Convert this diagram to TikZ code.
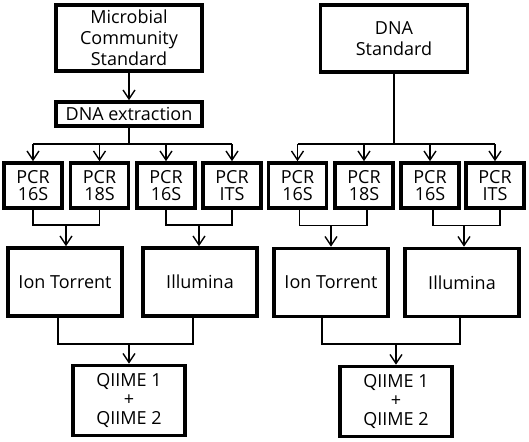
\documentclass[tikz,border=0pt]{standalone}
\usepackage{fontspec}
\setmainfont{Open Sans}
\usetikzlibrary{arrows.meta,calc}
\begin{document}
\begin{tikzpicture}[x=1pt,y=-1pt,
  box/.style={draw, line width=3.6pt, align=center, inner sep=0pt,
    font=\fontsize{18}{21}\selectfont},
  pcr/.style={box, minimum width=58pt, minimum height=45pt,
    font=\fontsize{18}{17.5}\selectfont},
  plat/.style={box, minimum width=114pt, minimum height=68pt},
  qbox/.style={box, minimum width=112pt, minimum height=70pt,
    font=\fontsize{18}{19}\selectfont},
  conn/.style={line width=1.4pt},
  arr/.style={line width=1.4pt, -{Straight Barb[length=9pt,width=12pt]}}]
\useasboundingbox (0,0) rectangle (529,441);

% ---------- left column ----------
\node[box, minimum width=146pt, minimum height=66pt] (mcs) at (129,38) {Microbial\\Community\\Standard};
\node[box, minimum width=146pt, minimum height=24pt] (dna) at (129,114) {DNA extraction};
\node[pcr] (l1) at (33,185.5) {PCR\\16S};
\node[pcr] (l2) at (99.5,185.5) {PCR\\18S};
\node[pcr] (l3) at (166,185.5) {PCR\\16S};
\node[pcr] (l4) at (232,185.5) {PCR\\ITS};
\node[plat] (ion1) at (65,282) {Ion Torrent};
\node[plat] (ill1) at (200,282) {Illumina};
\node[qbox] (q1) at (129,400.5) {QIIME 1\\+\\QIIME 2};

\coordinate (lbar) at (129,144);
\draw[arr] (mcs) -- (dna);
\draw[conn] (dna.south) -- (lbar);
\draw[conn] (l1.north |- lbar) -- (l4.north |- lbar);
\foreach \n in {l1,l2,l3,l4} \draw[arr] (\n.north |- lbar) -- (\n.north);

\coordinate (la) at (66,225);
\coordinate (lb) at (199,225);
\draw[conn] (l1.south) |- (la) -| (l2.south);
\draw[conn] (l3.south) |- (lb) -| (l4.south);
\draw[arr] (la) -- (ion1.north -| la);
\draw[arr] (lb) -- (ill1.north -| lb);

\coordinate (lc) at (129,344);
\draw[conn] ($(ion1.south)+(-7,0)$) |- (lc) -| ($(ill1.south)+(-7,0)$);
\draw[arr] (lc) -- (q1.north);

% ---------- right column ----------
\node[box, minimum width=147pt, minimum height=67pt] (ds) at (394,38.5) {DNA\\Standard};
\node[pcr] (r1) at (297.5,185.5) {PCR\\16S};
\node[pcr] (r2) at (364,185.5) {PCR\\18S};
\node[pcr] (r3) at (430,185.5) {PCR\\16S};
\node[pcr] (r4) at (495,185.5) {PCR\\ITS};
\node[plat] (ion2) at (331,282.5) {Ion Torrent};
\node[plat] (ill2) at (462,282.5) {Illumina};
\node[qbox] (q2) at (396,401.5) {QIIME 1\\+\\QIIME 2};

\coordinate (rbar) at (394,144);
\draw[conn] (ds.south) -- (rbar);
\draw[conn] (r1.north |- rbar) -- (r4.north |- rbar);
\foreach \n in {r1,r2,r3,r4} \draw[arr] (\n.north |- rbar) -- (\n.north);

\coordinate (ra) at (331,225.5);
\coordinate (rb) at (464,225.5);
\draw[conn] ($(r1.south)+(2,0)$) |- (ra) -| ($(r2.south)+(3,0)$);
\draw[conn] ($(r3.south)+(3,0)$) |- (rb) -| ($(r4.south)+(5,0)$);
\draw[arr] (ra) -- (ion2.north -| ra);
\draw[arr] (rb) -- (ill2.north -| rb);

\coordinate (rc) at (396,344);
\draw[conn] ($(ion2.south)+(-9,0)$) |- (rc) -| ($(ill2.south)+(-2,0)$);
\draw[arr] (rc) -- (q2.north);
\end{tikzpicture}
\end{document}
